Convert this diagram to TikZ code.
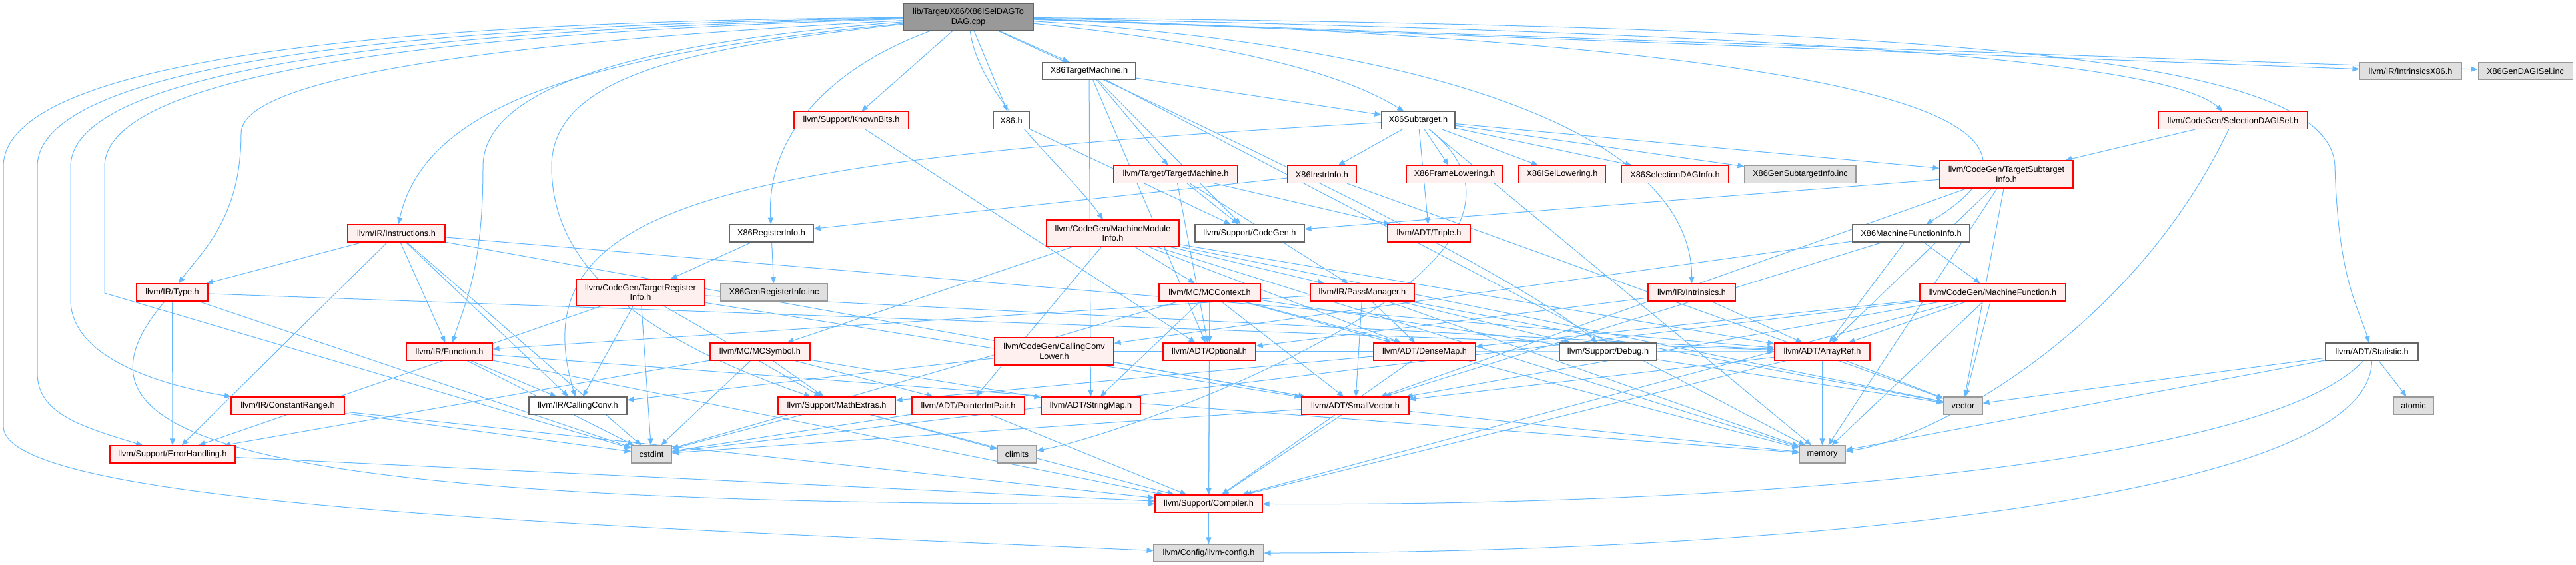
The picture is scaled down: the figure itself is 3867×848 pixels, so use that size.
\documentclass[tikz,border=0pt]{standalone}
\usepackage{fontspec}
\setmainfont{Liberation Sans}
\usetikzlibrary{arrows.meta}
\usetikzlibrary{backgrounds}

\definecolor{edgeblue}{HTML}{63B8FF}
\definecolor{redfill}{HTML}{FFF0F0}
\definecolor{grayfill}{HTML}{E0E0E0}
\definecolor{graydraw}{HTML}{999999}
\definecolor{darkdraw}{HTML}{666666}

\tikzset{
	redbox/.style={draw=red, fill=redfill, line width=1.1pt, inner sep=0pt, minimum height=26pt, align=center, font=\fontsize{12.7}{14.5}\selectfont},
	whitebox/.style={redbox, draw=darkdraw, fill=white},
	graybox/.style={redbox, draw=graydraw, fill=grayfill},
	rootbox/.style={redbox, draw=darkdraw, fill=graydraw},
	dep/.style={draw=edgeblue, line width=1pt, -{Triangle[length=10pt,width=8pt]}},
}

\begin{document}
\begin{tikzpicture}[x=1pt, y=-1pt]
				\useasboundingbox (0,0) rectangle (3867,848);
				\node[rootbox, minimum width=195pt, minimum height=41pt] (root) at (1453.5,25.5) {lib/Target/X86/X86ISelDAGTo\\DAG.cpp};
				\node[whitebox, minimum width=140pt] (x86tm) at (1635,106.5) {X86TargetMachine.h};
				\node[graybox, minimum width=153pt] (intrx86) at (3618.5,106.5) {llvm/IR/IntrinsicsX86.h};
				\node[graybox, minimum width=142pt] (gendag) at (3791,106.5) {X86GenDAGISel.inc};
				\node[redbox, minimum width=172pt] (knownbits) at (1278,180.5) {llvm/Support/KnownBits.h};
				\node[whitebox, minimum width=54pt] (x86h) at (1518,180.5) {X86.h};
				\node[whitebox, minimum width=110pt] (subtgt) at (2129,180.5) {X86Subtarget.h};
				\node[redbox, minimum width=224pt] (seldag) at (3352,180.5) {llvm/CodeGen/SelectionDAGISel.h};
				\node[redbox, minimum width=186pt] (tm) at (1765,261.5) {llvm/Target/TargetMachine.h};
				\node[redbox, minimum width=103pt] (instrinfo) at (1984.5,261.5) {X86InstrInfo.h};
				\node[redbox, minimum width=145pt] (framelow) at (2183.5,261.5) {X86FrameLowering.h};
				\node[redbox, minimum width=130pt] (isellow) at (2345,261.5) {X86ISelLowering.h};
				\node[redbox, minimum width=161pt] (seldaginfo) at (2514.5,261.5) {X86SelectionDAGInfo.h};
				\node[graybox, minimum width=167pt] (gensub) at (2702.5,261.5) {X86GenSubtargetInfo.inc};
				\node[redbox, minimum width=200pt, minimum height=41pt] (tsi) at (3012,261.5) {llvm/CodeGen/TargetSubtarget\\Info.h};
				\node[redbox, minimum width=146pt] (instrs) at (595,350) {llvm/IR/Instructions.h};
				\node[whitebox, minimum width=126pt] (reginfo) at (1158,350) {X86RegisterInfo.h};
				\node[redbox, minimum width=199pt, minimum height=40pt] (mmi) at (1670.5,350) {llvm/CodeGen/MachineModule\\Info.h};
				\node[whitebox, minimum width=164pt] (codegen) at (1876,350) {llvm/Support/CodeGen.h};
				\node[redbox, minimum width=124pt] (triple) at (2145,350) {llvm/ADT/Triple.h};
				\node[whitebox, minimum width=176pt] (mfi) at (2869,350) {X86MachineFunctionInfo.h};
				\node[redbox, minimum width=107pt] (type) at (258.5,439) {llvm/IR/Type.h};
				\node[redbox, minimum width=193pt, minimum height=40pt] (tri) at (961.5,439) {llvm/CodeGen/TargetRegister\\Info.h};
				\node[graybox, minimum width=160pt] (genreg) at (1162,439) {X86GenRegisterInfo.inc};
				\node[redbox, minimum width=152pt] (mcctx) at (1816,439) {llvm/MC/MCContext.h};
				\node[redbox, minimum width=156pt] (passmgr) at (2045,439) {llvm/IR/PassManager.h};
				\node[redbox, minimum width=131pt] (intrin) at (2539.5,439) {llvm/IR/Intrinsics.h};
				\node[redbox, minimum width=219pt] (mf) at (2991.5,439) {llvm/CodeGen/MachineFunction.h};
				\node[redbox, minimum width=129pt] (func) at (674.5,528) {llvm/IR/Function.h};
				\node[redbox, minimum width=150pt] (mcsym) at (1141,528) {llvm/MC/MCSymbol.h};
				\node[redbox, minimum width=179pt, minimum height=41pt] (cclower) at (1582.5,527.5) {llvm/CodeGen/CallingConv\\Lower.h};
				\node[redbox, minimum width=139pt] (optional) at (1815.5,528) {llvm/ADT/Optional.h};
				\node[redbox, minimum width=153pt] (densemap) at (2138.5,528) {llvm/ADT/DenseMap.h};
				\node[whitebox, minimum width=146pt] (debug) at (2414,528) {llvm/Support/Debug.h};
				\node[redbox, minimum width=143pt] (arrayref) at (2735.5,528) {llvm/ADT/ArrayRef.h};
				\node[whitebox, minimum width=139pt] (statistic) at (3560.5,528) {llvm/ADT/Statistic.h};
				\node[redbox, minimum width=170pt] (crange) at (432,609) {llvm/IR/ConstantRange.h};
				\node[whitebox, minimum width=147pt] (callconv) at (867.5,609) {llvm/IR/CallingConv.h};
				\node[redbox, minimum width=176pt] (mathext) at (1256,609) {llvm/Support/MathExtras.h};
				\node[redbox, minimum width=169pt] (ptrint) at (1453.5,609) {llvm/ADT/PointerIntPair.h};
				\node[redbox, minimum width=149pt] (strmap) at (1637.5,609) {llvm/ADT/StringMap.h};
				\node[redbox, minimum width=161pt] (smallvec) at (2034.5,609) {llvm/ADT/SmallVector.h};
				\node[graybox, minimum width=58pt] (vector) at (2947,609) {vector};
				\node[graybox, minimum width=60pt] (atomic) at (3623,609) {atomic};
				\node[redbox, minimum width=188pt] (errh) at (259,682) {llvm/Support/ErrorHandling.h};
				\node[graybox, minimum width=60pt] (cstdint) at (978,682) {cstdint};
				\node[graybox, minimum width=59pt] (climits) at (1526.5,682) {climits};
				\node[graybox, minimum width=69pt] (memory) at (2735.5,682) {memory};
				\node[redbox, minimum width=161pt] (compiler) at (1814.5,756) {llvm/Support/Compiler.h};
				\node[graybox, minimum width=165pt] (config) at (1814.5,830) {llvm/Config/llvm-config.h};
				\begin{scope}[on background layer]
					\draw[dep] (root) .. controls (900,30) and (5,50) .. (5,250) -- (5,640) .. controls (5,760) and (900,790) .. (config);
					\draw[dep] (root) .. controls (900,34) and (56,60) .. (56,250) -- (56,560) .. controls (56,620) and (120,640) .. (errh);
					\draw[dep] (root) .. controls (900,38) and (106,70) .. (106,250) -- (106,450) .. controls (106,540) and (250,580) .. (crange);
					\draw[dep] (root) .. controls (900,42) and (157,80) .. (157,250) -- (157,440) -- (cstdint);
					\draw[dep] (root) .. controls (900,55) and (362,100) .. (362,200) .. controls (362,330) and (300,380) .. (type);
					\draw[dep] (root) .. controls (900,80) and (640,150) .. (instrs);
					\draw[dep] (root) .. controls (1000,60) and (725,120) .. (725,250) .. controls (725,400) and (700,450) .. (func);
					\draw[dep] (root) .. controls (1050,70) and (828,110) .. (828,250) .. controls (828,420) and (1000,520) .. (mathext);
					\draw[dep] (root) .. controls (1250,100) and (1150,200) .. (reginfo);
					\draw[dep] (root) -- (knownbits);
					\draw[dep] (root) -- (x86h);
					\draw[dep] (root) -- (x86tm);
					\draw[dep] (root) .. controls (1470,150) and (1600,250) .. (mmi);
					\draw[dep] (root) .. controls (1800,60) and (2000,100) .. (subtgt);
					\draw[dep] (root) .. controls (1700,140) and (2250,390) .. (debug);
					\draw[dep] (root) .. controls (2300,80) and (2540,250) .. (intrin);
					\draw[dep] (root) .. controls (2600,60) and (3200,150) .. (mfi);
					\draw[dep] (root) .. controls (2700,50) and (3250,90) .. (seldag);
					\draw[dep] (root) -- (intrx86);
					\draw[dep] (root) -- (gendag);
					\draw[dep] (root) .. controls (2900,40) and (3500,80) .. (3505,250) .. controls (3510,420) and (3540,460) .. (statistic);
					\draw[dep] (x86tm) -- (subtgt);
					\draw[dep] (x86tm) -- (tm);
					\draw[dep] (x86tm) -- (codegen);
					\draw[dep] (x86tm) -- (optional);
					\draw[dep] (x86tm) -- (strmap);
					\draw[dep] (x86tm) -- (memory);
					\draw[dep] (knownbits) -- (optional);
					\draw[dep] (x86h) -- (codegen);
					\draw[dep] (subtgt) -- (instrinfo);
					\draw[dep] (subtgt) -- (framelow);
					\draw[dep] (subtgt) -- (isellow);
					\draw[dep] (subtgt) -- (seldaginfo);
					\draw[dep] (subtgt) -- (gensub);
					\draw[dep] (subtgt) -- (tsi);
					\draw[dep] (subtgt) -- (triple);
					\draw[dep] (subtgt) .. controls (1100,240) and (776,300) .. (callconv);
					\draw[dep] (subtgt) .. controls (2400,400) and (1700,650) .. (climits);
					\draw[dep] (subtgt) -- (memory);
					\draw[dep] (seldag) -- (tsi);
					\draw[dep] (seldag) .. controls (3200,500) and (2900,660) .. (memory);
					\draw[dep] (tm) -- (codegen);
					\draw[dep] (tm) -- (triple);
					\draw[dep] (tm) -- (passmgr);
					\draw[dep] (tm) -- (optional);
					\draw[dep] (instrinfo) -- (reginfo);
					\draw[dep] (instrinfo) -- (vector);
					\draw[dep] (tsi) -- (codegen);
					\draw[dep] (tsi) -- (arrayref);
					\draw[dep] (tsi) -- (smallvec);
					\draw[dep] (tsi) -- (memory);
					\draw[dep] (tsi) -- (vector);
					\draw[dep] (reginfo) -- (tri);
					\draw[dep] (reginfo) -- (genreg);
					\draw[dep] (mmi) -- (arrayref);
					\draw[dep] (mmi) -- (densemap);
					\draw[dep] (mmi) -- (ptrint);
					\draw[dep] (mmi) -- (passmgr);
					\draw[dep] (mmi) -- (mcctx);
					\draw[dep] (mmi) -- (mcsym);
					\draw[dep] (mmi) -- (memory);
					\draw[dep] (mmi) -- (vector);
					\draw[dep] (mfi) -- (mf);
					\draw[dep] (mfi) -- (arrayref);
					\draw[dep] (mfi) -- (smallvec);
					\draw[dep] (mfi) -- (cclower);
					\draw[dep] (instrs) -- (arrayref);
					\draw[dep] (instrs) -- (smallvec);
					\draw[dep] (instrs) -- (callconv);
					\draw[dep] (instrs) -- (func);
					\draw[dep] (instrs) -- (type);
					\draw[dep] (instrs) -- (errh);
					\draw[dep] (instrs) -- (cstdint);
					\draw[dep] (type) -- (arrayref);
					\draw[dep] (type) .. controls (80,650) and (300,760) .. (compiler);
					\draw[dep] (type) -- (errh);
					\draw[dep] (type) -- (cstdint);
					\draw[dep] (tri) -- (arrayref);
					\draw[dep] (tri) -- (smallvec);
					\draw[dep] (tri) -- (callconv);
					\draw[dep] (tri) -- (errh);
					\draw[dep] (tri) -- (mathext);
					\draw[dep] (tri) -- (cstdint);
					\draw[dep] (mcctx) -- (densemap);
					\draw[dep] (mcctx) -- (optional);
					\draw[dep] (mcctx) -- (smallvec);
					\draw[dep] (mcctx) -- (strmap);
					\draw[dep] (mcctx) -- (compiler);
					\draw[dep] (mcctx) -- (cstdint);
					\draw[dep] (mcctx) -- (memory);
					\draw[dep] (mcctx) -- (vector);
					\draw[dep] (passmgr) -- (densemap);
					\draw[dep] (passmgr) -- (smallvec);
					\draw[dep] (passmgr) -- (func);
					\draw[dep] (passmgr) -- (debug);
					\draw[dep] (passmgr) -- (memory);
					\draw[dep] (passmgr) -- (vector);
					\draw[dep] (intrin) -- (arrayref);
					\draw[dep] (intrin) -- (optional);
					\draw[dep] (mf) -- (arrayref);
					\draw[dep] (mf) -- (densemap);
					\draw[dep] (mf) -- (smallvec);
					\draw[dep] (mf) -- (compiler);
					\draw[dep] (mf) -- (cstdint);
					\draw[dep] (mf) -- (memory);
					\draw[dep] (mf) -- (vector);
					\draw[dep] (func) -- (callconv);
					\draw[dep] (func) -- (compiler);
					\draw[dep] (func) -- (cstdint);
					\draw[dep] (func) -- (memory);
					\draw[dep] (mcsym) -- (ptrint);
					\draw[dep] (mcsym) -- (strmap);
					\draw[dep] (mcsym) -- (errh);
					\draw[dep] (mcsym) -- (mathext);
					\draw[dep] (mcsym) -- (cstdint);
					\draw[dep] (cclower) -- (arrayref);
					\draw[dep] (cclower) -- (smallvec);
					\draw[dep] (cclower) -- (callconv);
					\draw[dep] (optional) -- (compiler);
					\draw[dep] (densemap) -- (compiler);
					\draw[dep] (densemap) -- (mathext);
					\draw[dep] (arrayref) -- (smallvec);
					\draw[dep] (arrayref) -- (compiler);
					\draw[dep] (arrayref) -- (memory);
					\draw[dep] (arrayref) -- (vector);
					\draw[dep] (statistic) .. controls (3560,760) and (2600,830) .. (config);
					\draw[dep] (statistic) .. controls (3400,700) and (2600,760) .. (compiler);
					\draw[dep] (statistic) -- (atomic);
					\draw[dep] (statistic) -- (memory);
					\draw[dep] (statistic) -- (vector);
					\draw[dep] (crange) -- (compiler);
					\draw[dep] (crange) -- (cstdint);
					\draw[dep] (mathext) -- (compiler);
					\draw[dep] (mathext) -- (climits);
					\draw[dep] (mathext) -- (cstdint);
					\draw[dep] (ptrint) -- (compiler);
					\draw[dep] (ptrint) -- (cstdint);
					\draw[dep] (smallvec) -- (compiler);
					\draw[dep] (smallvec) -- (memory);
					\draw[dep] (smallvec) -- (cstdint);
					\draw[dep] (errh) -- (compiler);
					\draw[dep] (compiler) -- (config);
				\end{scope}
			\end{tikzpicture}
\end{document}
